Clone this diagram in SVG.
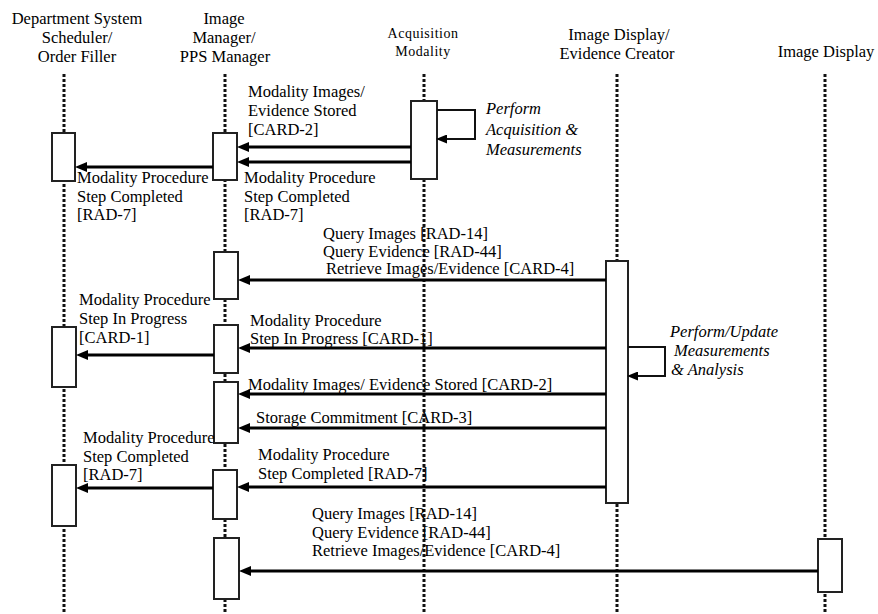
<svg xmlns="http://www.w3.org/2000/svg" width="878" height="614" viewBox="0 0 878 614">
<style>
  text { font-family: "Liberation Serif", "Times New Roman", serif; fill: #000; }
  .hd { font-size: 16.5px; text-anchor: middle; }
  .hs { font-size: 14px; text-anchor: middle; letter-spacing: 0.5px; }
  .lb { font-size: 16.5px; }
  .it { font-size: 16.5px; font-style: italic; }
  .life { stroke: #111; stroke-width: 3; stroke-dasharray: 3 2; fill: none; }
  .box { fill: #fff; stroke: #222; stroke-width: 2; }
  .msg { stroke: #000; stroke-width: 3; fill: none; }
  .loop { stroke: #111; stroke-width: 2; fill: none; }
</style>
<defs>
  <marker id="ah" markerUnits="userSpaceOnUse" markerWidth="12" markerHeight="10" refX="6" refY="5" orient="auto">
    <path d="M0,0 L12,5 L0,10 z" fill="#000"/>
  </marker>
  <marker id="ahs" markerUnits="userSpaceOnUse" markerWidth="11" markerHeight="9" refX="5" refY="4.5" orient="auto">
    <path d="M0,0 L11,4.5 L0,9 z" fill="#000"/>
  </marker>
</defs>
<rect width="878" height="614" fill="#fff"/>

<g id="lifelines">
  <line class="life" x1="64" y1="74" x2="64" y2="614"/>
  <line class="life" x1="225" y1="74" x2="225" y2="614"/>
  <line class="life" x1="424" y1="74" x2="424" y2="614"/>
  <line class="life" x1="617" y1="74" x2="617" y2="614"/>
  <line class="life" x1="825" y1="74" x2="825" y2="614"/>
</g>

<g id="dss">
  <text class="hd" x="77" y="24">Department System</text>
  <text class="hd" x="77" y="43">Scheduler/</text>
  <text class="hd" x="77" y="62">Order Filler</text>
  <rect class="box" x="52" y="133" width="23" height="48"/>
  <rect class="box" x="52" y="327" width="24" height="60"/>
  <rect class="box" x="52" y="465" width="24" height="61"/>
</g>

<g id="im">
  <text class="hd" x="224" y="24">Image</text>
  <text class="hd" x="224" y="43">Manager/</text>
  <text class="hd" x="225" y="62">PPS Manager</text>
  <rect class="box" x="213" y="133" width="24" height="47"/>
  <rect class="box" x="214" y="252" width="24" height="47"/>
  <rect class="box" x="214" y="325" width="24" height="48"/>
  <rect class="box" x="214" y="382" width="24" height="61"/>
  <rect class="box" x="213" y="470" width="24" height="49"/>
  <rect class="box" x="214" y="538" width="25" height="61"/>
</g>

<g id="am">
  <text class="hs" x="423" y="38">Acquisition</text>
  <text class="hs" x="423" y="56">Modality</text>
  <rect class="box" x="411" y="101" width="26" height="78"/>
</g>

<g id="idec">
  <text class="hd" x="619" y="40">Image Display/</text>
  <text class="hd" x="617" y="59">Evidence Creator</text>
  <rect class="box" x="606" y="261" width="22" height="242"/>
</g>

<g id="id">
  <text class="hd" x="826" y="57">Image Display</text>
  <rect class="box" x="818" y="539" width="24" height="53"/>
</g>

<g id="connectors">
  <line class="msg" x1="411" y1="147" x2="243" y2="147" marker-end="url(#ah)"/>
  <line class="msg" x1="411" y1="162" x2="243" y2="162" marker-end="url(#ah)"/>
  <line class="msg" x1="213" y1="167" x2="81" y2="167" marker-end="url(#ah)"/>
  <polyline class="loop" points="437,110 475,110 475,139 442,139" marker-end="url(#ahs)"/>
  <line class="msg" x1="606" y1="280" x2="244" y2="280" marker-end="url(#ah)"/>
  <polyline class="loop" points="628,347 665,347 665,376 633,376" marker-end="url(#ahs)"/>
  <line class="msg" x1="606" y1="348" x2="244" y2="348" marker-end="url(#ah)"/>
  <line class="msg" x1="214" y1="355" x2="82" y2="355" marker-end="url(#ah)"/>
  <line class="msg" x1="606" y1="394" x2="244" y2="394" marker-end="url(#ah)"/>
  <line class="msg" x1="606" y1="428" x2="244" y2="428" marker-end="url(#ah)"/>
  <line class="msg" x1="606" y1="487" x2="243" y2="487" marker-end="url(#ah)"/>
  <line class="msg" x1="213" y1="488" x2="82" y2="488" marker-end="url(#ah)"/>
  <line class="msg" x1="818" y1="571" x2="245" y2="571" marker-end="url(#ah)"/>
</g>

<g id="labels">
  <text class="lb" x="248" y="97">Modality Images/</text>
  <text class="lb" x="248" y="116">Evidence Stored</text>
  <text class="lb" x="248" y="135">[CARD-2]</text>
  <text class="lb" x="77" y="183">Modality Procedure</text>
  <text class="lb" x="77" y="202">Step Completed</text>
  <text class="lb" x="77" y="220">[RAD-7]</text>
  <text class="lb" x="244" y="183">Modality Procedure</text>
  <text class="lb" x="244" y="202">Step Completed</text>
  <text class="lb" x="244" y="220">[RAD-7]</text>
  <text class="it" x="486" y="114">Perform</text>
  <text class="it" x="486" y="135">Acquisition &amp;</text>
  <text class="it" x="486" y="155">Measurements</text>
  <text class="lb" x="323" y="239">Query Images [RAD-14]</text>
  <text class="lb" x="323" y="256.5">Query Evidence [RAD-44]</text>
  <text class="lb" x="326" y="274">Retrieve Images/Evidence [CARD-4]</text>
  <text class="lb" x="79" y="305">Modality Procedure</text>
  <text class="lb" x="79" y="324">Step In Progress</text>
  <text class="lb" x="79" y="343">[CARD-1]</text>
  <text class="lb" x="250" y="326">Modality Procedure</text>
  <text class="lb" x="250" y="344">Step In Progress [CARD-1]</text>
  <text class="it" x="670" y="337">Perform/Update</text>
  <text class="it" x="674" y="356">Measurements</text>
  <text class="it" x="671" y="375">&amp; Analysis</text>
  <text class="lb" x="248" y="390">Modality Images/ Evidence Stored [CARD-2]</text>
  <text class="lb" x="256" y="423">Storage Commitment [CARD-3]</text>
  <text class="lb" x="83" y="443">Modality Procedure</text>
  <text class="lb" x="83" y="462">Step Completed</text>
  <text class="lb" x="83" y="480">[RAD-7]</text>
  <text class="lb" x="258" y="460">Modality Procedure</text>
  <text class="lb" x="258" y="479">Step Completed [RAD-7]</text>
  <text class="lb" x="312" y="519">Query Images [RAD-14]</text>
  <text class="lb" x="312" y="537.5">Query Evidence [RAD-44]</text>
  <text class="lb" x="312" y="556">Retrieve Images/Evidence [CARD-4]</text>
</g>
</svg>
